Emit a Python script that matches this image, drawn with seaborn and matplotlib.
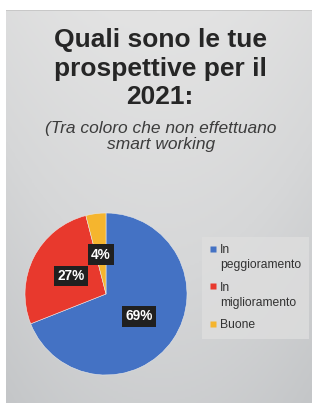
import matplotlib
matplotlib.use("Agg")
import matplotlib.pyplot as plt
from matplotlib.colors import LinearSegmentedColormap
from matplotlib.lines import Line2D
import seaborn as sns
import numpy as np

# ---- data ----
categories = ["In\npeggioramento", "In\nmiglioramento", "Buone"]
values = [69, 27, 4]
colors = ["#4472C4", "#E8392D", "#F5B52E"]
title = "Quali sono le tue\nprospettive per il\n2021:"
subtitle = "(Tra coloro che non effettuano\nsmart working"

sns.set_theme(style="white")
plt.rcParams['font.family'] = ['Liberation Sans', 'DejaVu Sans']

W, H = 312, 403
fig = plt.figure(figsize=(W / 100, H / 100), dpi=100, facecolor="white")

# slide background with soft gradient
bg = fig.add_axes([6 / W, 0, 1 - 6 / W, 1 - 10 / H], zorder=0)
yy = np.linspace(0, 1, 200)[:, None]
xx = np.linspace(-1, 1, 200)[None, :]
grad = 0.75 * yy + 0.25 * (xx ** 2)
cmap = LinearSegmentedColormap.from_list("g", ["#e3e3e3", "#d6d7d8", "#c4c6c8"])
bg.imshow(grad, cmap=cmap, aspect="auto", extent=[0, 1, 0, 1], vmin=0, vmax=1)
bg.plot([0, 1], [1, 1], color="#c4c4c4", lw=1.2, transform=bg.transAxes)
bg.set_axis_off()

# titles
fig.text(160 / W, 1 - 28 / H, title, ha="center", va="top", fontsize=19,
         fontweight="bold", color="#262626", linespacing=1.25, zorder=2)
fig.text(161 / W, 1 - 121 / H, subtitle, ha="center", va="top", fontsize=12.5,
         fontstyle="italic", color="#3c3c3c", linespacing=1.12, zorder=2)

# pie
ax = fig.add_axes([25 / W, 28 / H, 162 / W, 162 / H], zorder=1)
palette = sns.color_palette(colors)
wedges, texts, autotexts = ax.pie(
    values, colors=palette, startangle=90, counterclock=False,
    autopct=lambda p: f"{p:.0f}%", pctdistance=0.49,
    wedgeprops=dict(linewidth=0.4, edgecolor="#e8e8e8"),
    textprops=dict(color="white", fontsize=9.8, fontweight="bold"))
for t in autotexts:
    t.set_bbox(dict(facecolor="#202020", edgecolor="none", boxstyle="square,pad=0.25"))
ax.set_xlim(-1, 1)
ax.set_ylim(-1, 1)
ax.set_aspect("equal")
ax.set_axis_off()

# legend (square markers in wedge colours, aligned with first label line)
handles = [Line2D([], [], marker="s", linestyle="none", markersize=4.6,
                  markerfacecolor=w.get_facecolor(), markeredgecolor="none")
           for w in wedges]
leg = fig.legend(handles, categories, loc="upper left",
                 bbox_to_anchor=(202 / W, 1 - 237 / H), bbox_transform=fig.transFigure,
                 fontsize=8.7, frameon=True, fancybox=False, borderaxespad=0,
                 handlelength=0.55, handleheight=0.8, handletextpad=0.35,
                 borderpad=0.6, labelspacing=0.9)
leg.get_frame().set_facecolor("#dedede")
leg.get_frame().set_edgecolor("none")
for t in leg.get_texts():
    t.set_color("#333333")
    t.set_linespacing(1.3)
for col in leg._legend_handle_box.get_children():
    for row in col.get_children():
        row.align = "top"

fig.savefig("out.png", dpi=100, facecolor="white")
